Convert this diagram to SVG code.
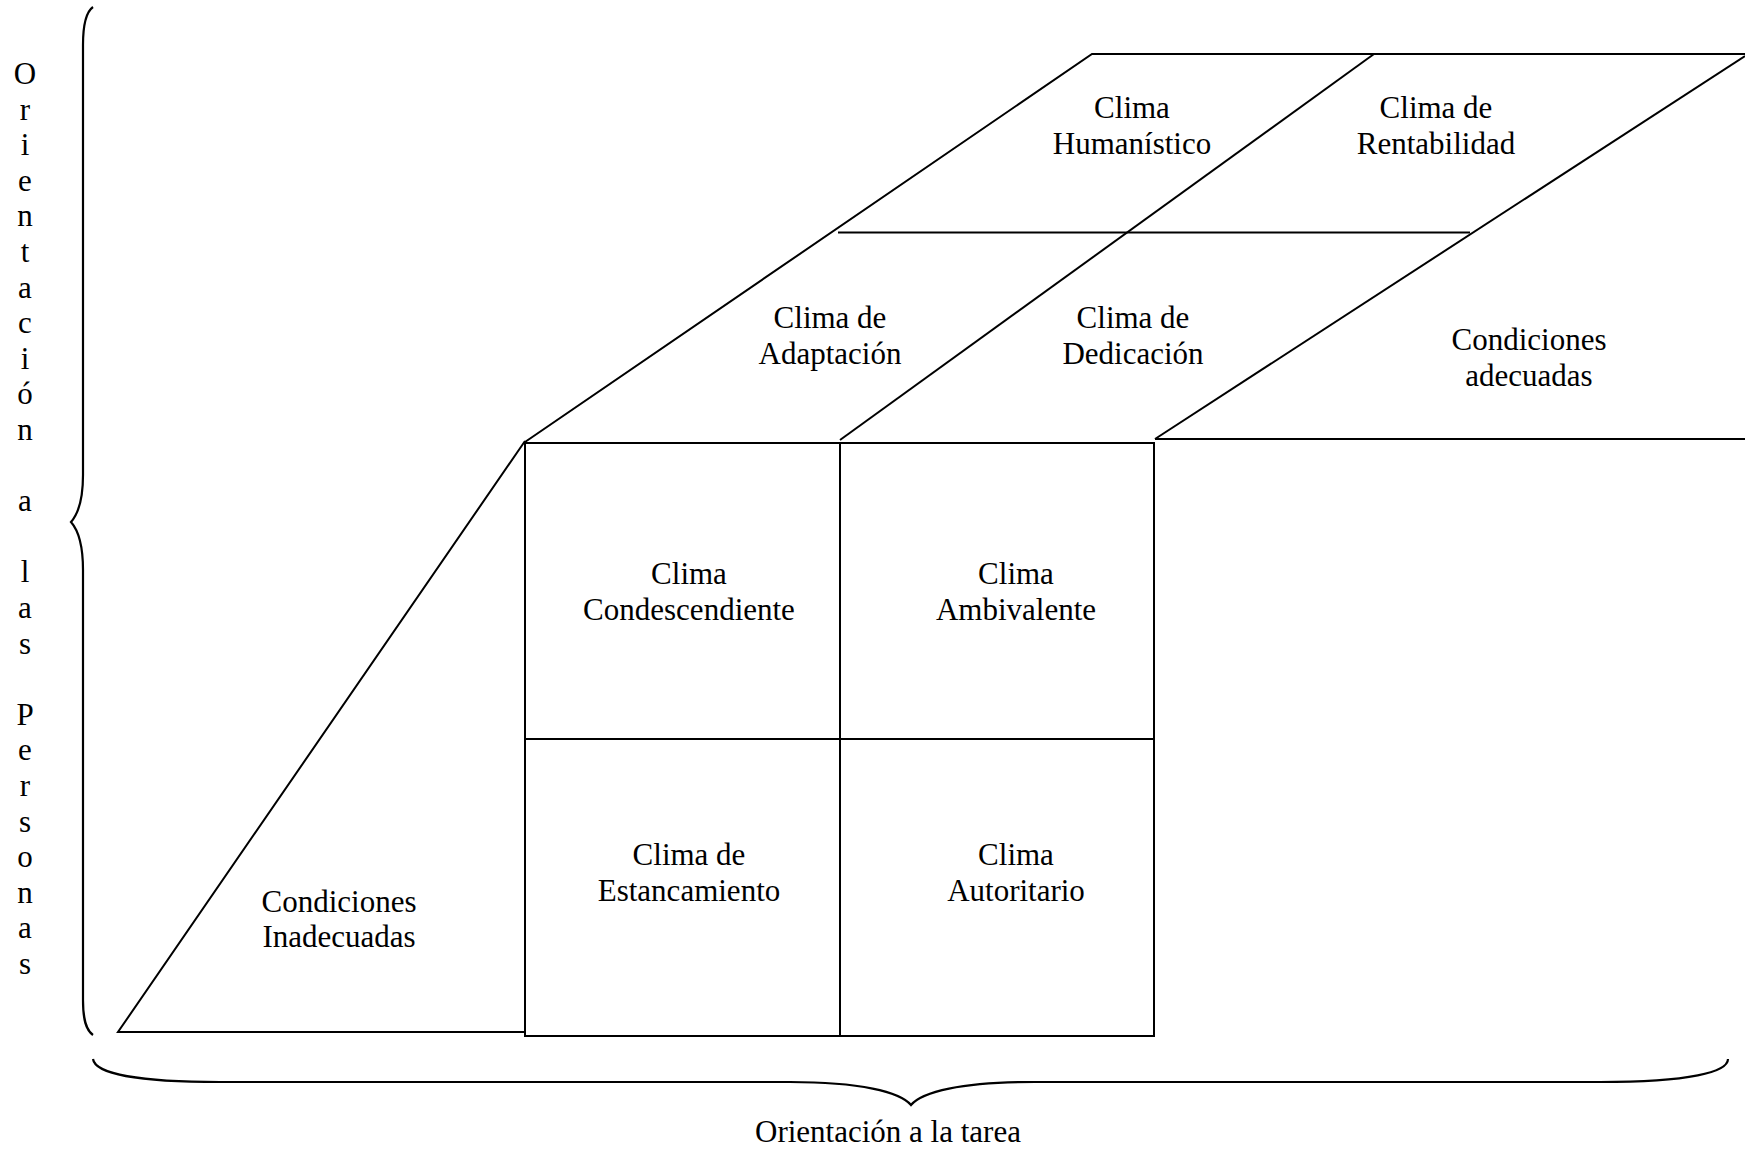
<svg xmlns="http://www.w3.org/2000/svg" width="1745" height="1149" viewBox="0 0 1745 1149">
<style>
  .ln { fill: none; stroke: #000; stroke-width: 2; stroke-linecap: butt; stroke-linejoin: miter; }
  .br { fill: none; stroke: #000; stroke-width: 2.2; }
  text { font-family: "Liberation Serif", "Times New Roman", serif; font-size: 31px; fill: #000; text-anchor: middle; }
</style>
<rect x="0" y="0" width="1745" height="1149" fill="#fff"/>

<g id="shapes">
  <!-- top parallelogram outline -->
  <polyline class="ln" points="525,442 1092,54 1745,54"/>
  <line class="ln" x1="1745" y1="56" x2="1155" y2="439"/>
  <line class="ln" x1="1155" y1="439" x2="1745" y2="439"/>
  <line class="ln" x1="840" y1="440" x2="1374" y2="54"/>
  <line class="ln" x1="838" y1="232.5" x2="1470" y2="232.5"/>
  <!-- left triangle -->
  <polyline class="ln" points="525,441 118,1032 525,1032"/>
  <!-- front box -->
  <rect class="ln" x="525" y="443" width="629" height="593"/>
  <line class="ln" x1="840" y1="443" x2="840" y2="1036"/>
  <line class="ln" x1="525" y1="739" x2="1154" y2="739"/>
</g>

<g id="connectors">
  <path id="brace-left" class="br" d="M93,7 C86,12 83,25 83,45 L83,475 C83,500 78,514 71,522 C78,530 83,545 83,570 L83,1000 C83,1020 86,1030 93,1035"/>
  <path id="brace-bottom" class="br" d="M93,1059 C95,1074 140,1082 220,1082 L790,1082 C860,1082 900,1092 911,1105 C922,1092 960,1082 1035,1082 L1600,1082 C1690,1082 1728,1072 1728,1059"/>
</g>

<g id="node-humanistico"><text x="1132" y="118">Clima</text><text x="1132" y="154">Humanístico</text></g>
<g id="node-rentabilidad"><text x="1436" y="118">Clima de</text><text x="1436" y="154">Rentabilidad</text></g>
<g id="node-adaptacion"><text x="830" y="328">Clima de</text><text x="830" y="364">Adaptación</text></g>
<g id="node-dedicacion"><text x="1133" y="328">Clima de</text><text x="1133" y="364">Dedicación</text></g>
<g id="node-adecuadas"><text x="1529" y="350">Condiciones</text><text x="1529" y="386">adecuadas</text></g>
<g id="node-condescendiente"><text x="689" y="584">Clima</text><text x="689" y="620">Condescendiente</text></g>
<g id="node-ambivalente"><text x="1016" y="584">Clima</text><text x="1016" y="620">Ambivalente</text></g>
<g id="node-estancamiento"><text x="689" y="865">Clima de</text><text x="689" y="901">Estancamiento</text></g>
<g id="node-autoritario"><text x="1016" y="865">Clima</text><text x="1016" y="901">Autoritario</text></g>
<g id="node-inadecuadas"><text x="339" y="912">Condiciones</text><text x="339" y="947">Inadecuadas</text></g>

<g id="label-tarea"><text x="888" y="1142">Orientación a la tarea</text></g>

<g id="label-personas">
  <text x="25" y="84">O<tspan x="25" dy="35.6">r</tspan><tspan x="25" dy="35.6">i</tspan><tspan x="25" dy="35.6">e</tspan><tspan x="25" dy="35.6">n</tspan><tspan x="25" dy="35.6">t</tspan><tspan x="25" dy="35.6">a</tspan><tspan x="25" dy="35.6">c</tspan><tspan x="25" dy="35.6">i</tspan><tspan x="25" dy="35.6">ó</tspan><tspan x="25" dy="35.6">n</tspan><tspan x="25" dy="71.2">a</tspan><tspan x="25" dy="71.2">l</tspan><tspan x="25" dy="35.6">a</tspan><tspan x="25" dy="35.6">s</tspan><tspan x="25" dy="71.2">P</tspan><tspan x="25" dy="35.6">e</tspan><tspan x="25" dy="35.6">r</tspan><tspan x="25" dy="35.6">s</tspan><tspan x="25" dy="35.6">o</tspan><tspan x="25" dy="35.6">n</tspan><tspan x="25" dy="35.6">a</tspan><tspan x="25" dy="35.6">s</tspan></text>
</g>
</svg>
